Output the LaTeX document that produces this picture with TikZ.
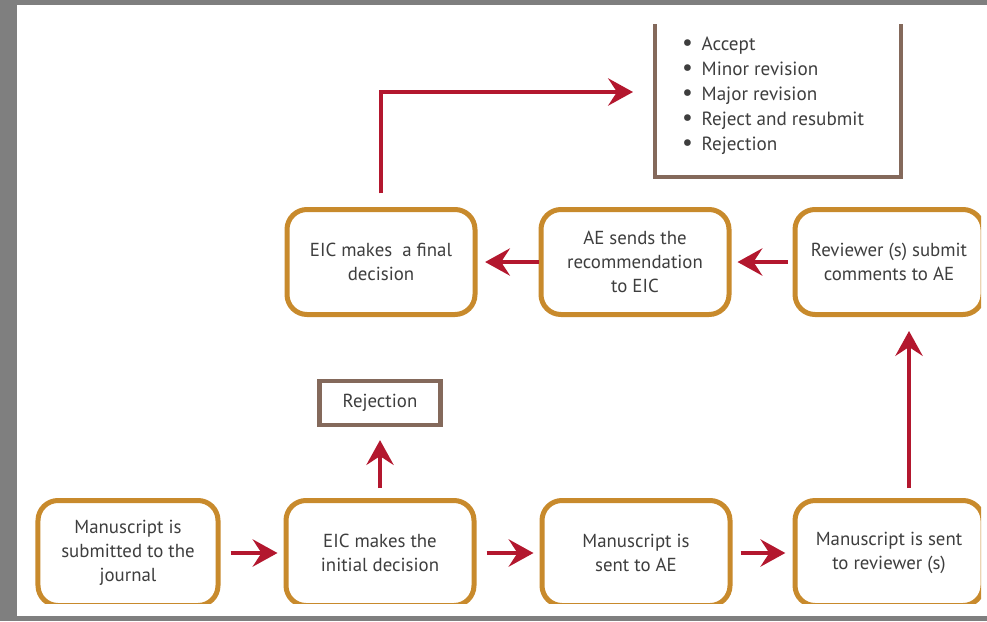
\documentclass[tikz,border=0pt]{standalone}
\usepackage{fontspec}
\setmainfont{PT Sans}
\usetikzlibrary{arrows.meta}
\definecolor{boxgold}{HTML}{C88A2C}
\definecolor{listbrown}{HTML}{84695B}
\definecolor{flowred}{HTML}{B3172E}
\definecolor{txtgray}{HTML}{3E3E3E}
\definecolor{framegray}{HTML}{7F7F7F}
\newcommand{\listdot}{{\fontsize{17pt}{17pt}\selectfont\textbullet}\hspace{2.2mm}}

\begin{document}
\begin{tikzpicture}[
  x=0.25mm, y=-0.25mm,
  % 1 unit = 1 px of the screenshot, y grows downward
  every node/.style={inner sep=0pt, text=txtgray, font=\fontsize{13.4pt}{17pt}\selectfont},
  stagebox/.style={draw=boxgold, line width=1.25mm, rounded corners=5mm,
    minimum width=47mm, minimum height=26.25mm, align=center},
  outbox/.style={draw=listbrown, line width=1.15mm, minimum width=30.25mm, minimum height=11mm},
  listrim/.style={draw=listbrown, line width=1.15mm, line join=miter},
  listtext/.style={align=left, font=\fontsize{13.6pt}{17.8pt}\selectfont},
  flow/.style={draw=flowred, line width=1.2mm, -{Stealth[length=6.2mm, width=6.8mm, inset=2.2mm]}}
]
  \useasboundingbox (0,0) rectangle (987,621);
  % ---- screenshot frame ----
  \fill[framegray] (0,0) rectangle (987,621);
  \fill[white] (17,5) rectangle (987,616);

  % ---- stages (cut off at the right and bottom edge) ----
  \begin{scope}
    \clip (17,5) rectangle (981,603);
    \node[stagebox, minimum width=45mm] (submit) at (128,553) {Manuscript is\\submitted to the\\journal};
    \node[stagebox] (initial) at (380,553) {EIC makes the\\initial decision};
    \node[stagebox] (toae)    at (636,553) {Manuscript is\\sent to AE};
    \node[stagebox] (torev)   at (889,553) {Manuscript is sent\\to reviewer (s)};
    \node[stagebox] (final)   at (381,262) {EIC makes\ \ a final\\decision};
    \node[stagebox] (recomm)  at (635,262) {AE sends the\\recommendation\\to EIC};
    \node[stagebox] (comment) at (889,262) {Reviewer (s) submit\\comments to AE};
  \end{scope}

  % ---- outcomes ----
  \node[outbox] (reject) at (380,403) {Rejection};
  \node[listtext] (outcomes) at (773,96) {%
    \listdot Accept\\
    \listdot Minor revision\\
    \listdot Major revision\\
    \listdot Reject and resubmit\\
    \listdot Rejection};
  \draw[listrim] (655,24) |- (901,177) -- (901,24);
  \coordinate (listin) at (655,92);

  % ---- flow ----
  \draw[flow, shorten <=2.5mm, shorten >=1.5mm] (submit) -- (initial);
  \draw[flow, shorten <=2.5mm, shorten >=1.5mm] (initial) -- (toae);
  \draw[flow, shorten <=2mm, shorten >=1.8mm] (toae) -- (torev);
  \draw[flow, shorten <=2.5mm, shorten >=3.5mm] (torev.north -| 909,0) -- (comment.south -| 909,0);
  \draw[flow, shorten <=1.2mm, shorten >=1.5mm] (comment) -- (recomm);
  \draw[flow, shorten <=0mm, shorten >=1.9mm] (recomm) -- (final);
  \draw[flow, shorten <=2.5mm, shorten >=3.2mm] (initial) -- (reject);
  \draw[flow, shorten <=3.4mm, shorten >=5.5mm] (final.north) |- (listin);
\end{tikzpicture}
\end{document}
